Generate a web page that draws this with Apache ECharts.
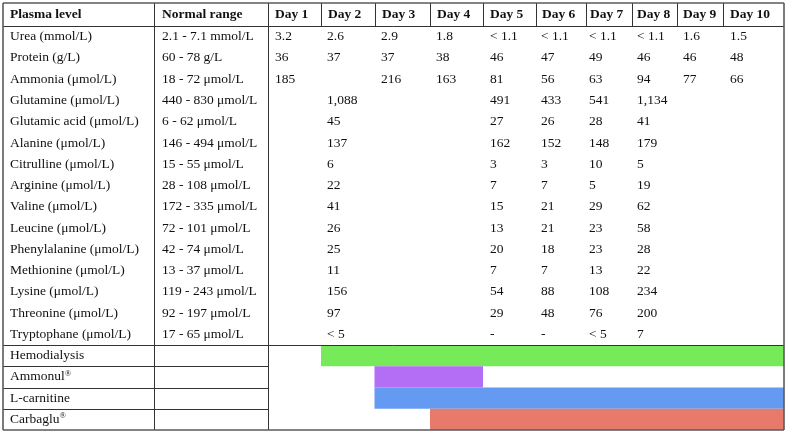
<!DOCTYPE html>
<html>
<head>
<meta charset="utf-8">
<script src="https://cdn.jsdelivr.net/npm/echarts@6/dist/echarts.min.js"></script>
<style>
  html, body { margin: 0; padding: 0; background: #fff; }
  #chart { width: 787px; height: 434px; }
</style>
</head>
<body>
<div id="chart"></div>
<script>
const analytes = [
  'Urea (mmol/L)', 'Protein (g/L)', 'Ammonia (μmol/L)', 'Glutamine (μmol/L)',
  'Glutamic acid (μmol/L)', 'Alanine (μmol/L)', 'Citrulline (μmol/L)', 'Arginine (μmol/L)',
  'Valine (μmol/L)', 'Leucine (μmol/L)', 'Phenylalanine (μmol/L)', 'Methionine (μmol/L)',
  'Lysine (μmol/L)', 'Threonine (μmol/L)', 'Tryptophane (μmol/L)'
]
const normalRanges = [
  '2.1 - 7.1 mmol/L', '60 - 78 g/L', '18 - 72 μmol/L', '440 - 830 μmol/L',
  '6 - 62 μmol/L', '146 - 494 μmol/L', '15 - 55 μmol/L', '28 - 108 μmol/L',
  '172 - 335 μmol/L', '72 - 101 μmol/L', '42 - 74 μmol/L', '13 - 37 μmol/L',
  '119 - 243 μmol/L', '92 - 197 μmol/L', '17 - 65 μmol/L'
]
const dayLabels = ['Day 1', 'Day 2', 'Day 3', 'Day 4', 'Day 5', 'Day 6', 'Day 7', 'Day 8', 'Day 9', 'Day 10']

const urea = ['3.2', '2.6', '2.9', '1.8', '< 1.1', '< 1.1', '< 1.1', '< 1.1', '1.6', '1.5']
const protein = ['36', '37', '37', '38', '46', '47', '49', '46', '46', '48']
const ammonia = ['185', '', '216', '163', '81', '56', '63', '94', '77', '66']
const glutamine = ['', '1,088', '', '', '491', '433', '541', '1,134', '', '']
const glutamicAcid = ['', '45', '', '', '27', '26', '28', '41', '', '']
const alanine = ['', '137', '', '', '162', '152', '148', '179', '', '']
const citrulline = ['', '6', '', '', '3', '3', '10', '5', '', '']
const arginine = ['', '22', '', '', '7', '7', '5', '19', '', '']
const valine = ['', '41', '', '', '15', '21', '29', '62', '', '']
const leucine = ['', '26', '', '', '13', '21', '23', '58', '', '']
const phenylalanine = ['', '25', '', '', '20', '18', '23', '28', '', '']
const methionine = ['', '11', '', '', '7', '7', '13', '22', '', '']
const lysine = ['', '156', '', '', '54', '88', '108', '234', '', '']
const threonine = ['', '97', '', '', '29', '48', '76', '200', '', '']
const tryptophane = ['', '< 5', '', '', '-', '-', '< 5', '7', '', '']
const dayValues = [urea, protein, ammonia, glutamine, glutamicAcid, alanine, citrulline,
  arginine, valine, leucine, phenylalanine, methionine, lysine, threonine, tryptophane]

const treatments = ['Hemodialysis', 'Ammonul', 'L-carnitine', 'Carbaglu']
const registered = [false, true, false, true]
const startDay = [2, 3, 3, 4]
const endDay = [10, 4, 10, 10]

// ---- layout (grid units = px inside the grid) ----
const W = 781, H = 427
const colEdges = [0, 151, 265, 318, 371.5, 427, 480, 533, 583, 629, 674, 720, 781]
const headerH = 23
const bodyBottom = 342
const bodyRowH = (bodyBottom - headerH) / analytes.length
const treatRowH = (H - bodyBottom) / treatments.length
const headTextX = [272, 325, 379, 434, 487, 539, 587, 634, 680, 727]
const bodyTextX = [272, 324, 378, 433, 487, 538, 586, 634, 680, 727]
const treatColors = ['#76ea58', '#b36ef5', '#649af2', '#e87a6c']
const font = 'Liberation Serif, Times New Roman, serif'
const fontSize = 13.5

// text cells
const cells = []
cells.push({ x: 7, y: headerH / 2, text: 'Plasma level', bold: true })
cells.push({ x: 159, y: headerH / 2, text: 'Normal range', bold: true })
dayLabels.forEach((d, k) => cells.push({ x: headTextX[k], y: headerH / 2, text: d, bold: true }))
analytes.forEach((name, i) => {
  const y = headerH + bodyRowH * (i + 0.5)
  cells.push({ x: 7, y, text: name })
  cells.push({ x: 159, y, text: normalRanges[i] })
  dayValues[i].forEach((v, k) => { if (v) cells.push({ x: bodyTextX[k], y, text: v }) })
})
treatments.forEach((name, i) => {
  const y = bodyBottom + treatRowH * (i + 0.5)
  cells.push({ x: 7, y, text: registered[i] ? '{n|' + name + '}{s|®}' : '{n|' + name + '}' })
})

// table rules
const rules = []
rules.push([0, headerH, W, headerH, 1])
for (let k = 1; k < colEdges.length - 1; k++) rules.push([colEdges[k], 0, colEdges[k], headerH, 1])
rules.push([colEdges[1], headerH, colEdges[1], H, 1])
rules.push([colEdges[2], headerH, colEdges[2], H, 1])
rules.push([0, bodyBottom, W, bodyBottom, 1])
for (let i = 1; i < treatments.length; i++) {
  const y = bodyBottom + treatRowH * i
  rules.push([0, y, colEdges[2], y, 1])
}
rules.push([0, 0, W, 0, 1.6])
rules.push([0, H, W, H, 1.6])
rules.push([0, 0, 0, H, 1.6])
rules.push([W, 0, W, H, 1.6])

const crisp = (v, w) => (w % 2 === 1 ? Math.round(v) + 0.5 : Math.round(v))

const chart = echarts.init(document.getElementById('chart'))
chart.setOption({
  animation: false,
  grid: { left: 3, right: 3, top: 3, bottom: 4 },
  xAxis: { type: 'value', min: 0, max: W, show: false },
  yAxis: { type: 'value', min: 0, max: H, inverse: true, show: false },
  series: [
    {
      type: 'custom',
      name: 'treatments',
      z: 1,
      clip: false,
      data: treatments.map((t, i) => [i, startDay[i], endDay[i]]),
      renderItem(params, api) {
        const i = api.value(0)
        const x0 = colEdges[api.value(1) + 1]
        const x1 = colEdges[api.value(2) + 2]
        const y0 = bodyBottom + treatRowH * i
        const p0 = api.coord([x0, y0])
        const p1 = api.coord([x1, y0 + treatRowH])
        return {
          type: 'rect',
          shape: { x: p0[0], y: p0[1], width: p1[0] - p0[0], height: p1[1] - p0[1] },
          style: { fill: treatColors[i] }
        }
      }
    },
    {
      type: 'custom',
      name: 'rules',
      z: 3,
      clip: false,
      data: rules,
      renderItem(params, api) {
        const w = rules[params.dataIndex][4]
        const p0 = api.coord([api.value(0), api.value(1)])
        const p1 = api.coord([api.value(2), api.value(3)])
        const vertical = p0[0] === p1[0]
        const shape = vertical
          ? { x1: crisp(p0[0], w), y1: p0[1], x2: crisp(p1[0], w), y2: p1[1] }
          : { x1: p0[0], y1: crisp(p0[1], w), x2: p1[0], y2: crisp(p1[1], w) }
        return {
          type: 'line',
          shape,
          style: { stroke: w > 1 ? '#5a5a5a' : '#333', lineWidth: w }
        }
      }
    },
    {
      type: 'custom',
      name: 'cells',
      z: 4,
      clip: false,
      data: cells.map(c => [c.x, c.y]),
      renderItem(params, api) {
        const c = cells[params.dataIndex]
        const p = api.coord([api.value(0), api.value(1)])
        return {
          type: 'text',
          x: p[0],
          y: p[1],
          style: {
            text: c.text,
            fill: '#111',
            font: (c.bold ? 'bold ' : '') + fontSize + 'px ' + font,
            verticalAlign: 'middle',
            align: 'left',
            rich: {
              n: { fontSize: fontSize, fontFamily: font, lineHeight: 16, fill: '#111' },
              s: { fontSize: 8.5, fontFamily: font, lineHeight: 16, verticalAlign: 'top', fill: '#111' }
            }
          }
        }
      }
    }
  ]
})
</script>
</body>
</html>
